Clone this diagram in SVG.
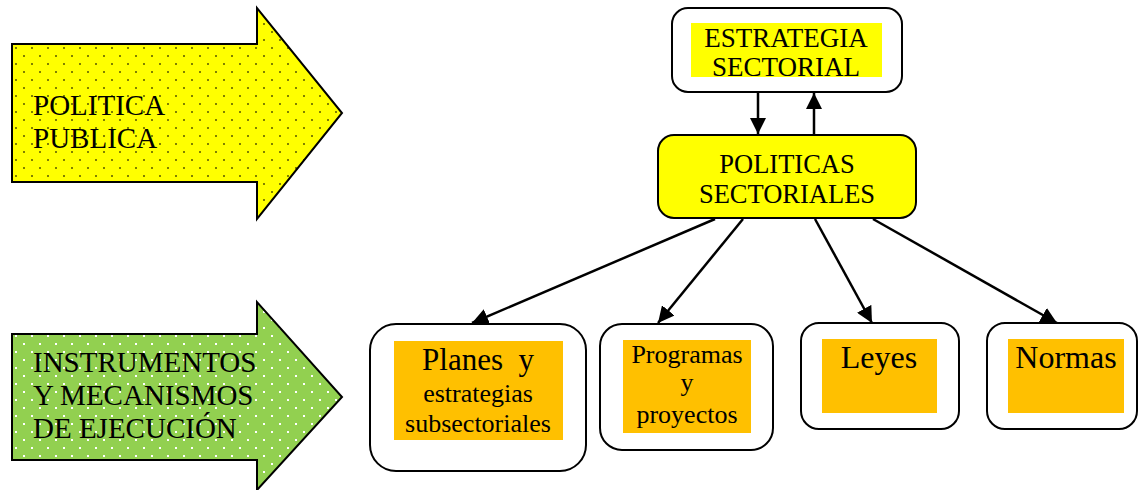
<svg xmlns="http://www.w3.org/2000/svg" width="1138" height="490" viewBox="0 0 1138 490">
  <style>
    .t { font-family: "Liberation Serif", "Times New Roman", serif; fill: #000; }
    .box { fill: #fff; stroke: #000; stroke-width: 2; }
    .hl-y { fill: #ffff00; }
    .hl-o { fill: #ffc000; }
    .conn { stroke: #000; stroke-width: 2.5; fill: none; marker-end: url(#ah); }
    .big-arrow { stroke: #000; stroke-width: 2; }
  </style>
  <defs>
    <marker id="ah" viewBox="0 0 10 10" refX="10" refY="5" markerWidth="6.5" markerHeight="6.5" markerUnits="strokeWidth" orient="auto">
      <path d="M0,0 L10,5 L0,10 z" fill="#000"/>
    </marker>
    <pattern id="dotsY" x="4" y="4" width="16" height="16" patternUnits="userSpaceOnUse">
      <rect width="16" height="16" fill="#ffff00"/>
      <rect x="3" y="3" width="2" height="2" fill="#808000"/>
      <rect x="11" y="11" width="2" height="2" fill="#808000"/>
    </pattern>
    <pattern id="dotsG" x="4" y="4" width="16" height="16" patternUnits="userSpaceOnUse">
      <rect width="16" height="16" fill="#92d050"/>
      <rect x="3" y="3" width="2" height="2" fill="#ffffff"/>
      <rect x="11" y="11" width="2" height="2" fill="#ffffff"/>
    </pattern>
  </defs>

  <!-- Left block arrows -->
  <g id="politica-publica">
    <path class="big-arrow" fill="url(#dotsY)" d="M12,44 H257 V8 L342,113 L257,219 V182 H12 Z"/>
    <text class="t" font-size="29" x="33" y="115">POLITICA</text>
    <text class="t" font-size="29" x="33" y="148">PUBLICA</text>
  </g>

  <g id="instrumentos">
    <path class="big-arrow" fill="url(#dotsG)" d="M12,334 H257 V302 L342,397 L257,490 V460 H12 Z"/>
    <text class="t" font-size="29" x="33" y="372">INSTRUMENTOS</text>
    <text class="t" font-size="29" x="33" y="405">Y MECANISMOS</text>
    <text class="t" font-size="29" x="33" y="438">DE EJECUCIÓN</text>
  </g>

  <!-- Top nodes -->
  <g id="estrategia-sectorial">
    <rect class="box" x="672" y="8" width="230" height="84" rx="16"/>
    <rect class="hl-y" x="691" y="23" width="191" height="54"/>
    <text class="t" font-size="27" x="786" y="47" text-anchor="middle">ESTRATEGIA</text>
    <text class="t" font-size="27" x="786" y="76" text-anchor="middle">SECTORIAL</text>
  </g>

  <g id="politicas-sectoriales">
    <rect x="658" y="135" width="258" height="83" rx="16" fill="#ffff00" stroke="#000" stroke-width="2"/>
    <text class="t" font-size="26.5" x="787" y="173" text-anchor="middle">POLITICAS</text>
    <text class="t" font-size="26.5" x="787" y="203" text-anchor="middle">SECTORIALES</text>
  </g>

  <!-- Bottom nodes -->
  <g id="planes">
    <rect class="box" x="370" y="324" width="216" height="147" rx="26"/>
    <rect class="hl-o" x="394" y="341" width="169" height="99"/>
    <text class="t" font-size="31" x="478" y="370" text-anchor="middle" xml:space="preserve">Planes  y</text>
    <text class="t" font-size="26" x="478" y="402" text-anchor="middle">estrategias</text>
    <text class="t" font-size="26" x="478" y="432" text-anchor="middle">subsectoriales</text>
  </g>

  <g id="programas">
    <rect class="box" x="600" y="324" width="173" height="126" rx="22"/>
    <rect class="hl-o" x="623" y="340" width="128" height="93"/>
    <text class="t" font-size="26" x="687" y="363" text-anchor="middle">Programas</text>
    <text class="t" font-size="26" x="687" y="391" text-anchor="middle">y</text>
    <text class="t" font-size="26" x="687" y="423" text-anchor="middle">proyectos</text>
  </g>

  <g id="leyes">
    <rect class="box" x="801" y="323" width="158" height="106" rx="18"/>
    <rect class="hl-o" x="822" y="339" width="115" height="74"/>
    <text class="t" font-size="32" x="879" y="368" text-anchor="middle">Leyes</text>
  </g>

  <g id="normas">
    <rect class="box" x="987" y="323" width="150" height="106" rx="18"/>
    <rect class="hl-o" x="1008" y="339" width="116" height="74"/>
    <text class="t" font-size="32" x="1066" y="368" text-anchor="middle">Normas</text>
  </g>

  <!-- Connectors -->
  <g id="connectors">
    <line class="conn" x1="758" y1="93" x2="758" y2="134"/>
    <line class="conn" x1="814" y1="135" x2="814" y2="93"/>
    <line class="conn" x1="715" y1="219" x2="472" y2="323"/>
    <line class="conn" x1="743" y1="219" x2="658" y2="323"/>
    <line class="conn" x1="815" y1="219" x2="872" y2="323"/>
    <line class="conn" x1="873" y1="219" x2="1057" y2="323"/>
  </g>
</svg>
